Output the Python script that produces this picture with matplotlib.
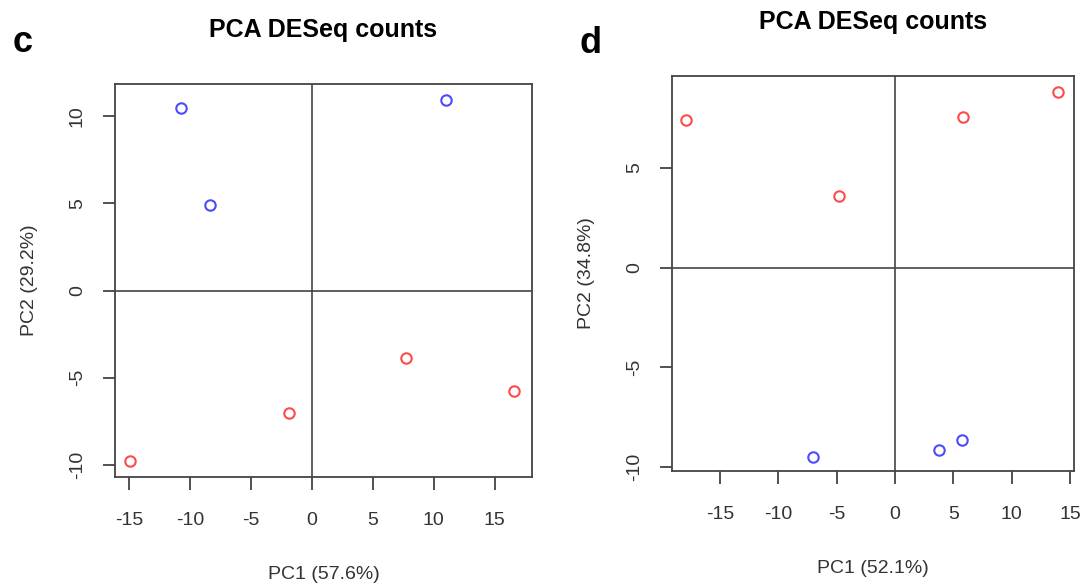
import matplotlib.pyplot as plt

plt.rcParams['font.family'] = ['Liberation Sans', 'DejaVu Sans']
plt.rcParams['axes.unicode_minus'] = False

# panel c
c_pc1 = [-10.7, -8.4, 11.0, -14.9, -1.9, 7.7, 16.6]
c_pc2 = [10.45, 4.9, 10.95, -9.8, -7.0, -3.9, -5.75]
c_group = ['blue', 'blue', 'blue', 'red', 'red', 'red', 'red']

# panel d
d_pc1 = [-17.9, -4.8, 5.8, 14.0, -7.0, 3.8, 5.75]
d_pc2 = [7.4, 3.6, 7.55, 8.8, -9.5, -9.15, -8.65]
d_group = ['red', 'red', 'red', 'red', 'blue', 'blue', 'blue']

colors = {'red': '#ff4a4a', 'blue': '#4a4aff'}

fig = plt.figure(figsize=(10.83, 5.84), dpi=100)


def pca_panel(rect, xs, ys, groups, xlim, ylim, yticks, xlabel, ylabel):
    ax = fig.add_axes(rect)
    ax.axhline(0, color='#444444', lw=1.2, zorder=1)
    ax.axvline(0, color='#444444', lw=1.2, zorder=1)
    for x, y, g in zip(xs, ys, groups):
        ax.plot(x, y, 'o', mfc='none', mec=colors[g], mew=1.5, ms=7.5, zorder=3)
    ax.set_xlim(xlim)
    ax.set_ylim(ylim)
    ax.set_xticks([-15, -10, -5, 0, 5, 10, 15])
    ax.set_yticks(yticks)
    ax.tick_params(direction='out', length=9, width=1.2, color='#333333',
                   labelsize=14, labelcolor='#333333')
    ax.tick_params(axis='x', pad=16)
    ax.tick_params(axis='y', pad=12)
    for lab in ax.get_yticklabels():
        lab.set_rotation(90)
        lab.set_va('center')
    for s in ax.spines.values():
        s.set_color('#444444')
        s.set_linewidth(1.3)
    ax.set_xlabel(xlabel, fontsize=14, color='#333333', labelpad=27)
    ax.set_ylabel(ylabel, fontsize=14, color='#333333', labelpad=22)
    return ax


ax1 = pca_panel([0.1062, 0.1832, 0.385, 0.673], c_pc1, c_pc2, c_group,
                (-16.15, 18.05), (-10.7, 11.85), [-10, -5, 0, 5, 10],
                'PC1 (57.6%)', 'PC2 (29.2%)')
ax2 = pca_panel([0.6205, 0.1935, 0.3712, 0.6764], d_pc1, d_pc2, d_group,
                (-19.1, 15.35), (-10.2, 9.6), [-10, -5, 0, 5],
                'PC1 (52.1%)', 'PC2 (34.8%)')

fig.text(0.298, 0.948, 'PCA DESeq counts', ha='center', va='center',
         fontsize=18, fontweight='bold')
fig.text(0.806, 0.962, 'PCA DESeq counts', ha='center', va='center',
         fontsize=18, fontweight='bold')
fig.text(0.012, 0.928, 'c', ha='left', va='center', fontsize=26, fontweight='bold')
fig.text(0.535, 0.925, 'd', ha='left', va='center', fontsize=26, fontweight='bold')

fig.savefig('out.png', dpi=100)
